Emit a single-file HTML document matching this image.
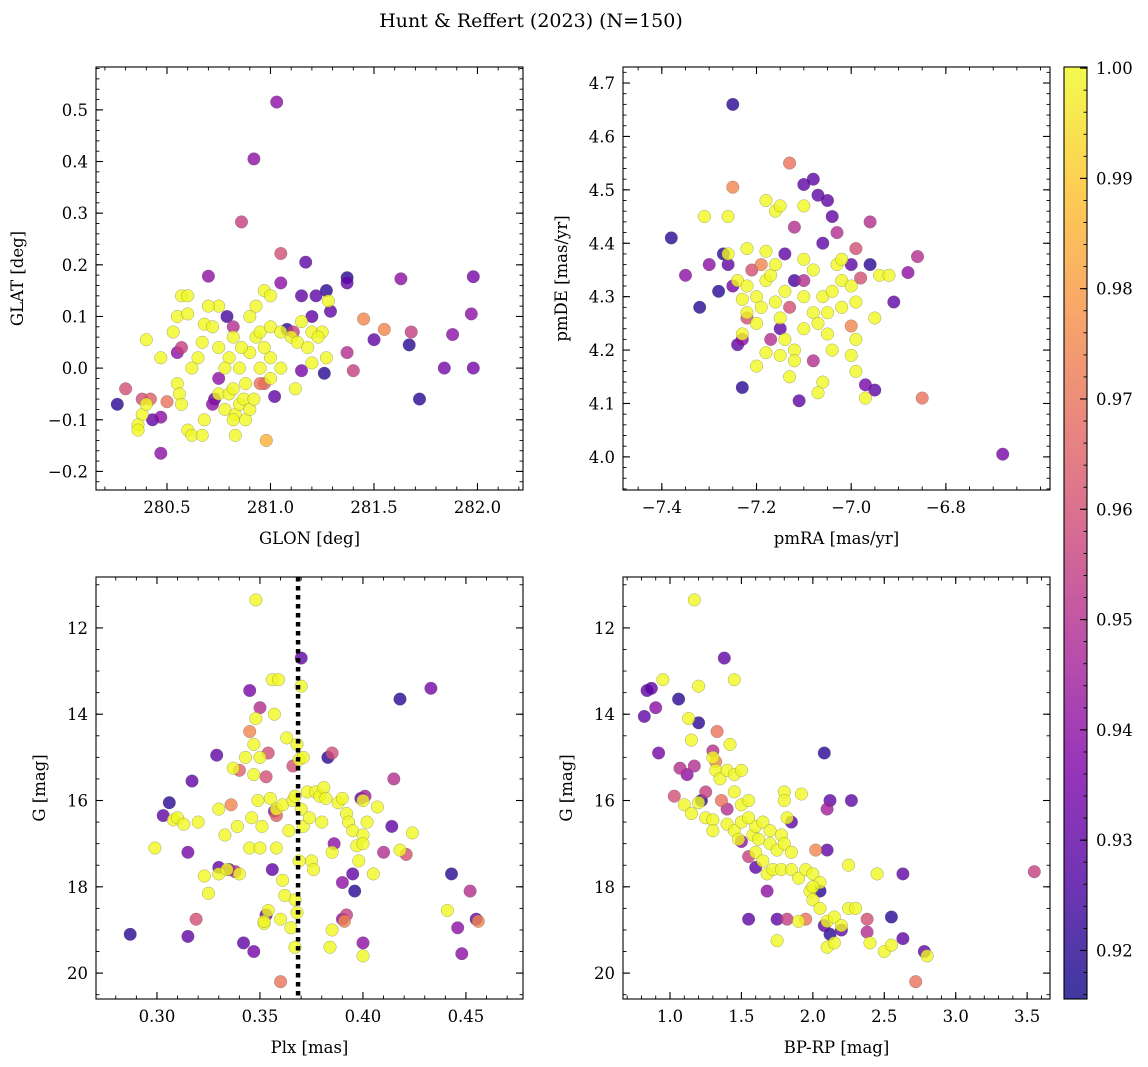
<!DOCTYPE html>
<html><head><meta charset="utf-8">
<style>
html,body{margin:0;padding:0;background:#fff;}
svg{display:block;font-family:"DejaVu Serif","Liberation Serif",serif;}
</style></head>
<body>
<svg id="fig" width="1148" height="1067" xmlns="http://www.w3.org/2000/svg">
<defs>
<linearGradient id="plasmaGrad" x1="0" y1="1" x2="0" y2="0">
<stop offset="0" stop-color="#0d0887"/><stop offset="0.125" stop-color="#4c02a1"/><stop offset="0.25" stop-color="#7e03a8"/><stop offset="0.375" stop-color="#a92395"/><stop offset="0.5" stop-color="#cc4778"/><stop offset="0.625" stop-color="#e56b5d"/><stop offset="0.75" stop-color="#f89441"/><stop offset="0.875" stop-color="#fdc328"/><stop offset="1" stop-color="#f0f921"/>
</linearGradient>
</defs>
<text x="531" y="27" font-size="19" text-anchor="middle">Hunt &amp; Reffert (2023) (N=150)</text>
</svg>
<script>
// ---------- data ----------
const probRange = [0.9156, 1.0001];
const cbarTicks = [0.92,0.93,0.94,0.95,0.96,0.97,0.98,0.99,1.00];

const glonGlatPts = [
[281.03,0.515,0.94],[280.92,0.405,0.94],[280.86,0.283,0.955],[281.05,0.222,0.96],[281.05,0.165,0.94],[281.17,0.205,0.93],[281.37,0.175,0.92],[281.37,0.165,0.93],[281.63,0.173,0.94],[281.98,0.177,0.935],[280.7,0.178,0.94],[281.27,0.15,0.92],[281.22,0.14,0.93],[281.15,0.14,0.93],[281.2,0.1,0.93],[281.29,0.11,0.93],[281.45,0.095,0.975],[281.55,0.075,0.975],[281.68,0.07,0.955],[281.88,0.065,0.94],[281.97,0.105,0.94],[281.98,0.0,0.935],[281.84,0.0,0.935],[281.67,0.045,0.92],[281.5,0.055,0.93],[281.72,-0.06,0.92],[281.4,-0.005,0.955],[281.37,0.03,0.95],[281.26,-0.01,0.92],[281.15,-0.005,0.935],[281.08,0.075,0.92],[281.11,0.07,0.955],[281.02,-0.055,0.93],[280.97,-0.03,0.965],[280.95,-0.03,0.97],[280.98,-0.14,0.985],[280.79,0.1,0.925],[280.82,0.08,0.95],[280.75,-0.02,0.94],[280.3,-0.04,0.96],[280.26,-0.07,0.92],[280.38,-0.06,0.96],[280.42,-0.06,0.965],[280.5,-0.065,0.97],[280.43,-0.1,0.93],[280.47,-0.095,0.94],[280.47,-0.165,0.94],[280.55,0.03,0.94],[280.57,0.04,0.955],[280.72,-0.07,0.94],[280.73,-0.06,0.93],
[280.38,-0.09,1],[280.36,-0.11,1],[280.36,-0.12,1],[280.4,-0.07,1],[280.4,0.055,1],[280.47,0.02,1],[280.53,0.07,1],[280.55,0.1,1],[280.57,0.14,1],[280.6,0.14,1],[280.6,0.105,1],[280.55,-0.03,1],[280.56,-0.05,1],[280.57,-0.07,1],[280.6,-0.12,1],[280.62,-0.13,1],[280.67,-0.13,1],[280.62,0.0,1],[280.65,0.02,1],[280.67,0.05,1],[280.68,0.085,1],[280.72,0.08,1],[280.75,0.04,1],[280.75,-0.05,1],[280.78,-0.08,1],[280.8,-0.05,1],[280.82,-0.04,1],[280.83,-0.09,1],[280.85,-0.07,1],[280.87,-0.06,1],[280.88,-0.1,1],[280.9,-0.08,1],[280.82,-0.1,1],[280.8,0.02,1],[280.78,0.0,1],[280.85,0.0,1],[280.9,0.03,1],[280.93,0.06,1],[280.95,0.07,1],[280.9,0.1,1],[280.93,0.12,1],[280.97,0.15,1],[281.0,0.14,1],[281.0,0.08,1],[281.05,0.07,1],[281.1,0.06,1],[281.13,0.05,1],[281.18,0.04,1],[281.2,0.07,1],[281.25,0.07,1],[281.27,0.02,1],[281.2,0.01,1],[281.12,-0.04,1],[281.05,0.0,1],[281.0,0.02,1],[280.95,0.0,1],[280.92,-0.06,1],[280.88,-0.03,1],[280.86,0.04,1],[280.82,0.06,1],[280.75,0.12,1],[280.7,0.12,1],[281.0,-0.02,1],[280.97,0.04,1],[280.83,-0.13,1],[280.68,-0.1,1],[281.28,0.13,1],[281.15,0.09,1],[281.23,0.06,1]];

const pmPts = [
[-7.25,4.66,0.92],[-7.38,4.41,0.92],[-7.35,4.34,0.94],[-7.32,4.28,0.92],[-7.3,4.36,0.94],[-7.28,4.31,0.92],[-7.26,4.36,0.93],[-7.27,4.38,0.92],[-7.23,4.13,0.92],[-7.23,4.22,0.94],[-7.24,4.21,0.93],[-7.25,4.505,0.975],[-7.13,4.55,0.97],[-7.1,4.51,0.93],[-7.08,4.52,0.93],[-7.07,4.49,0.93],[-7.05,4.48,0.93],[-7.04,4.45,0.93],[-7.06,4.4,0.93],[-7.03,4.42,0.95],[-7.12,4.43,0.95],[-7.14,4.38,0.93],[-7.12,4.33,0.925],[-7.1,4.33,0.95],[-7.15,4.24,0.93],[-7.17,4.22,0.95],[-7.13,4.28,0.96],[-7.11,4.105,0.93],[-7.08,4.18,0.95],[-6.96,4.44,0.95],[-6.99,4.39,0.96],[-6.98,4.335,0.96],[-6.96,4.36,0.92],[-7.0,4.36,0.93],[-6.95,4.125,0.93],[-6.97,4.135,0.935],[-6.91,4.29,0.93],[-6.88,4.345,0.94],[-6.86,4.375,0.95],[-6.85,4.11,0.97],[-6.68,4.005,0.935],[-7.0,4.245,0.975],[-7.19,4.36,0.975],[-7.21,4.35,0.96],[-7.25,4.32,0.935],[-7.22,4.26,0.96],
[-7.31,4.45,1],[-7.26,4.45,1],[-7.26,4.38,1],[-7.22,4.39,1],[-7.24,4.33,1],[-7.23,4.295,1],[-7.22,4.27,1],[-7.23,4.23,1],[-7.2,4.25,1],[-7.2,4.3,1],[-7.18,4.33,1],[-7.17,4.34,1],[-7.18,4.48,1],[-7.16,4.46,1],[-7.15,4.47,1],[-7.16,4.36,1],[-7.16,4.29,1],[-7.15,4.26,1],[-7.14,4.22,1],[-7.12,4.2,1],[-7.15,4.19,1],[-7.18,4.195,1],[-7.2,4.17,1],[-7.18,4.385,1],[-7.1,4.47,1],[-7.1,4.37,1],[-7.1,4.3,1],[-7.08,4.27,1],[-7.06,4.3,1],[-7.07,4.25,1],[-7.05,4.23,1],[-7.04,4.2,1],[-7.06,4.14,1],[-7.07,4.12,1],[-7.02,4.28,1],[-7.02,4.33,1],[-7.03,4.36,1],[-7.02,4.37,1],[-7.0,4.32,1],[-6.99,4.29,1],[-6.99,4.22,1],[-7.0,4.19,1],[-6.99,4.16,1],[-6.97,4.11,1],[-6.95,4.26,1],[-6.94,4.34,1],[-6.92,4.34,1],[-7.1,4.24,1],[-7.12,4.18,1],[-7.22,4.32,1],[-7.19,4.28,1],[-7.13,4.15,1],[-7.04,4.31,1],[-7.08,4.35,1],[-7.14,4.31,1],[-7.05,4.27,1]];

const plxGPts = [
[0.287,19.1,0.92],[0.303,16.35,0.93],[0.306,16.05,0.92],[0.315,17.2,0.935],[0.315,19.15,0.93],[0.317,15.55,0.93],[0.319,18.75,0.96],[0.329,14.95,0.93],[0.33,17.55,0.93],[0.335,17.6,0.935],[0.336,16.1,0.975],[0.338,17.65,0.95],[0.34,15.3,0.965],[0.342,19.3,0.93],[0.345,14.4,0.975],[0.345,13.45,0.935],[0.347,19.5,0.935],[0.35,13.85,0.95],[0.353,15.45,0.96],[0.353,18.65,0.93],[0.356,17.6,0.93],[0.357,16.25,0.94],[0.358,16.35,0.965],[0.36,20.2,0.97],[0.366,15.2,0.96],[0.37,12.7,0.93],[0.383,15.0,0.92],[0.385,14.9,0.96],[0.386,17.0,0.94],[0.39,17.9,0.94],[0.39,18.75,0.94],[0.392,18.65,0.955],[0.391,18.8,0.975],[0.395,17.7,0.93],[0.396,18.1,0.92],[0.399,15.95,0.93],[0.4,19.3,0.94],[0.401,15.9,0.945],[0.41,17.2,0.95],[0.414,16.6,0.93],[0.415,15.5,0.95],[0.418,13.65,0.92],[0.421,17.25,0.96],[0.433,13.4,0.935],[0.443,17.7,0.92],[0.446,18.95,0.94],[0.448,19.55,0.94],[0.452,18.1,0.95],[0.455,18.75,0.93],[0.456,18.8,0.975],[0.354,14.9,0.96],
[0.299,17.1,1],[0.308,16.45,1],[0.31,16.4,1],[0.313,16.55,1],[0.32,16.5,1],[0.323,17.75,1],[0.325,18.15,1],[0.33,17.7,1],[0.33,16.2,1],[0.333,16.8,1],[0.334,17.6,1],[0.337,15.25,1],[0.339,16.6,1],[0.34,17.7,1],[0.343,15.0,1],[0.345,17.1,1],[0.346,16.4,1],[0.347,15.4,1],[0.347,14.7,1],[0.348,11.35,1],[0.348,14.1,1],[0.349,16.0,1],[0.35,15.0,1],[0.35,17.1,1],[0.351,16.6,1],[0.352,18.85,1],[0.354,18.55,1],[0.355,15.95,1],[0.356,13.2,1],[0.357,14.0,1],[0.358,16.2,1],[0.358,17.1,1],[0.359,13.2,1],[0.36,18.75,1],[0.361,17.85,1],[0.361,16.1,1],[0.363,14.55,1],[0.364,16.7,1],[0.365,18.95,1],[0.366,16.0,1],[0.367,15.9,1],[0.367,18.3,1],[0.368,14.7,1],[0.369,17.4,1],[0.369,15.05,1],[0.37,13.35,1],[0.37,16.2,1],[0.371,16.6,1],[0.371,15.0,1],[0.373,15.8,1],[0.374,16.4,1],[0.375,17.4,1],[0.376,17.6,1],[0.377,15.8,1],[0.379,15.9,1],[0.38,16.5,1],[0.381,15.7,1],[0.382,15.95,1],[0.384,19.4,1],[0.385,17.2,1],[0.385,19.0,1],[0.388,16.05,1],[0.39,15.95,1],[0.392,16.3,1],[0.393,16.5,1],[0.395,16.7,1],[0.397,17.05,1],[0.398,17.4,1],[0.4,16.8,1],[0.4,17.0,1],[0.4,19.6,1],[0.4,16.0,1],[0.402,16.5,1],[0.405,17.7,1],[0.407,16.15,1],[0.418,17.15,1],[0.424,16.75,1],[0.441,18.55,1],[0.367,19.4,1],[0.362,18.2,1],[0.368,18.6,1],[0.352,18.8,1]];

const cmdPts = [
[0.82,14.05,0.93],[0.84,13.45,0.93],[0.87,13.4,0.93],[0.9,13.85,0.94],[0.92,14.9,0.935],[1.03,15.9,0.96],[1.06,13.65,0.92],[1.07,15.25,0.95],[1.12,15.4,0.94],[1.17,15.2,0.95],[1.2,14.2,0.92],[1.22,16.0,0.92],[1.3,14.85,0.95],[1.33,14.4,0.97],[1.38,12.7,0.93],[1.36,16.0,0.97],[1.4,16.2,0.95],[1.55,17.3,0.955],[1.6,17.55,0.93],[1.5,16.95,0.94],[1.68,18.1,0.94],[1.75,18.75,0.93],[1.55,18.75,0.93],[1.82,18.75,0.955],[1.95,18.75,0.97],[2.02,17.15,0.975],[2.1,17.15,0.93],[2.08,14.9,0.92],[2.1,16.2,0.945],[2.12,16.0,0.93],[2.2,19.0,0.93],[2.27,16.0,0.93],[2.08,18.9,0.93],[2.12,19.1,0.92],[2.05,18.1,0.92],[2.38,18.75,0.96],[2.38,19.05,0.95],[2.55,18.7,0.92],[2.63,19.2,0.93],[2.63,17.7,0.93],[2.72,20.2,0.97],[2.78,19.5,0.93],[3.55,17.65,0.955],[1.85,16.5,0.93],[1.32,15.1,0.975],[1.25,15.8,0.955],
[0.95,13.2,1],[1.17,11.35,1],[1.2,13.35,1],[1.13,14.1,1],[1.15,14.6,1],[1.45,13.2,1],[1.42,14.7,1],[1.3,15.0,1],[1.32,15.3,1],[1.35,15.5,1],[1.4,15.3,1],[1.45,15.4,1],[1.5,15.3,1],[1.45,15.8,1],[1.5,16.1,1],[1.55,16.0,1],[1.2,16.05,1],[1.25,16.4,1],[1.3,16.45,1],[1.4,16.55,1],[1.45,16.7,1],[1.5,16.5,1],[1.58,16.8,1],[1.6,16.6,1],[1.65,16.5,1],[1.7,16.7,1],[1.7,17.0,1],[1.75,17.15,1],[1.78,16.8,1],[1.8,17.0,1],[1.82,16.4,1],[1.85,17.2,1],[1.8,15.8,1],[1.8,16.0,1],[1.92,15.85,1],[1.6,17.2,1],[1.65,17.4,1],[1.68,17.7,1],[1.72,17.6,1],[1.78,17.6,1],[1.85,17.6,1],[1.9,17.8,1],[1.95,17.6,1],[2.0,17.7,1],[1.98,18.1,1],[2.0,18.3,1],[2.05,17.9,1],[2.05,18.5,1],[2.1,18.8,1],[2.15,18.7,1],[2.2,18.9,1],[2.25,17.5,1],[2.25,18.5,1],[2.3,18.5,1],[2.4,19.3,1],[2.45,17.7,1],[2.5,19.5,1],[2.55,19.35,1],[2.8,19.6,1],[2.1,19.4,1],[1.75,19.25,1],[1.9,18.8,1],[1.1,16.1,1],[1.15,16.3,1],[1.3,16.7,1],[1.48,16.9,1],[1.55,16.4,1],[1.62,16.9,1],[2.0,18.0,1],[2.15,19.3,1]];

const glonTicks=[280.5,281.0,281.5,282.0], glatTicks=[-0.2,-0.1,0.0,0.1,0.2,0.3,0.4,0.5];
const pmraTicks=[-7.4,-7.2,-7.0,-6.8], pmdeTicks=[4.0,4.1,4.2,4.3,4.4,4.5,4.6,4.7];
const plxTicks=[0.30,0.35,0.40,0.45], gTicks=[12,14,16,18,20];
const bprpTicks=[1.0,1.5,2.0,2.5,3.0,3.5];
const plxLine = [0.3685];

// ---------- drawing ----------
const svg=document.getElementById('fig');
const NS='http://www.w3.org/2000/svg';
function mk(tag,attrs,parent){const e=document.createElementNS(NS,tag);for(const k in attrs)e.setAttribute(k,attrs[k]);(parent||svg).appendChild(e);return e;}
const stops=[[0,[13,8,135]],[0.125,[76,2,161]],[0.25,[126,3,168]],[0.375,[169,35,149]],[0.5,[204,71,120]],[0.625,[229,107,93]],[0.75,[248,148,65]],[0.875,[253,195,40]],[1,[240,249,33]]];
function plasma(t){t=Math.max(0,Math.min(1,t));for(let i=1;i<stops.length;i++){if(t<=stops[i][0]){const a=stops[i-1],b=stops[i];const f=(t-a[0])/(b[0]-a[0]);return 'rgb('+a[1].map((v,j)=>Math.round(v+(b[1][j]-v)*f)).join(',')+')';}}return 'rgb(240,249,33)';}
function fmt(v,d){return (v<0?'\u2212':'')+Math.abs(v).toFixed(d);}
const TF=16.5, LF=16.5;

function panel(cfg){
  const {name,x0,y0,x1,y1,xd,yd,xt,yt,xdec,ydec,xminor,yminor,pts,xlabel,ylabel,ylx}=cfg;
  const g=mk('g',{});
  
  
  const sx=v=>x0+(v-xd[0])/(xd[1]-xd[0])*(x1-x0);
  const sy=v=>y1-(v-yd[0])/(yd[1]-yd[0])*(y1-y0);
  const clip='clip-'+name;
  const cp=mk('clipPath',{id:clip},g);mk('rect',{x:x0,y:y0,width:x1-x0,height:y1-y0},cp);
  const pg=mk('g',{'clip-path':'url(#'+clip+')'},g);
  const sorted=pts.slice().sort((a,b)=>a[2]-b[2]);
  sorted.forEach(p=>{
    const c=mk('circle',{cx:sx(p[0]).toFixed(1),cy:sy(p[1]).toFixed(1),r:6.3,fill:plasma((p[2]-probRange[0])/(probRange[1]-probRange[0])),'fill-opacity':0.8,stroke:'#555','stroke-opacity':0.5,'stroke-width':0.5},pg);
    
    
  });
  if(cfg.vline){cfg.vline.forEach(v=>{const l=mk('line',{x1:sx(v),x2:sx(v),y1:y0,y2:y1,stroke:'#000','stroke-width':4.5,'stroke-dasharray':'4.5,4.5'},g);
    
    });}
  const fr=mk('rect',{x:x0,y:y0,width:x1-x0,height:y1-y0,fill:'none',stroke:'#000','stroke-width':1.1},g);
  
  
  const xm0=Math.ceil(xd[0]/xminor-1e-6),xm1=Math.floor(xd[1]/xminor+1e-6);
  for(let i=xm0;i<=xm1;i++){const X=sx(i*xminor);mk('line',{x1:X,x2:X,y1:y1,y2:y1-3.5,stroke:'#000','stroke-width':0.9},g);mk('line',{x1:X,x2:X,y1:y0,y2:y0+3.5,stroke:'#000','stroke-width':0.9},g);}
  const ym0=Math.ceil(Math.min(...yd)/yminor-1e-6),ym1=Math.floor(Math.max(...yd)/yminor+1e-6);
  for(let i=ym0;i<=ym1;i++){const Y=sy(i*yminor);mk('line',{x1:x0,x2:x0+3.5,y1:Y,y2:Y,stroke:'#000','stroke-width':0.9},g);mk('line',{x1:x1,x2:x1-3.5,y1:Y,y2:Y,stroke:'#000','stroke-width':0.9},g);}
  const xa=mk('g',{},g);
  xt.forEach(v=>{const X=sx(v);mk('line',{x1:X,x2:X,y1:y1,y2:y1-7,stroke:'#000','stroke-width':1.1},xa);mk('line',{x1:X,x2:X,y1:y0,y2:y0+7,stroke:'#000','stroke-width':1.1},xa);
    const t=mk('text',{x:X,y:y1+23,'font-size':TF,'text-anchor':'middle'},xa);t.textContent=fmt(v,xdec);
    });
  const ya=mk('g',{},g);
  yt.forEach(v=>{const Y=sy(v);mk('line',{x1:x0,x2:x0+7,y1:Y,y2:Y,stroke:'#000','stroke-width':1.1},ya);mk('line',{x1:x1,x2:x1-7,y1:Y,y2:Y,stroke:'#000','stroke-width':1.1},ya);
    const t=mk('text',{x:x0-8,y:Y+6,'font-size':TF,'text-anchor':'end'},ya);t.textContent=fmt(v,ydec);
    });
  const xl=mk('text',{x:(x0+x1)/2,y:y1+54,'font-size':LF,'text-anchor':'middle'},g);xl.textContent=xlabel;
  
  const yl=mk('text',{x:0,y:0,'font-size':LF,'text-anchor':'middle',transform:'translate('+ylx+','+((y0+y1)/2)+') rotate(-90)'},g);yl.textContent=ylabel;
  
}

panel({name:'glon-glat-panel',x0:96,y0:67,x1:523,y1:490,xd:[280.157,282.22],yd:[-0.236,0.583],xt:glonTicks,yt:glatTicks,xdec:1,ydec:1,xminor:0.1,yminor:0.02,pts:glonGlatPts,xlabel:'GLON [deg]',ylabel:'GLAT [deg]',ylx:23});
panel({name:'proper-motion-panel',x0:623,y0:67,x1:1050,y1:490,xd:[-7.482,-6.58],yd:[3.938,4.73],xt:pmraTicks,yt:pmdeTicks,xdec:1,ydec:1,xminor:0.05,yminor:0.02,pts:pmPts,xlabel:'pmRA [mas/yr]',ylabel:'pmDE [mas/yr]',ylx:567});
panel({name:'parallax-magnitude-panel',x0:96,y0:577,x1:523,y1:999,xd:[0.2704,0.4777],yd:[20.6,10.82],xt:plxTicks,yt:gTicks,xdec:2,ydec:0,xminor:0.01,yminor:0.5,pts:plxGPts,xlabel:'Plx [mas]',ylabel:'G [mag]',ylx:45,vline:plxLine});
panel({name:'color-magnitude-panel',x0:623,y0:577,x1:1050,y1:999,xd:[0.671,3.66],yd:[20.6,10.82],xt:bprpTicks,yt:gTicks,xdec:1,ydec:0,xminor:0.1,yminor:0.5,pts:cmdPts,xlabel:'BP-RP [mag]',ylabel:'G [mag]',ylx:572});

const cb=mk('g',{});


const cbx0=1064,cbx1=1087,cby0=67,cby1=999;
const cy=v=>cby1-(v-probRange[0])/(probRange[1]-probRange[0])*(cby1-cby0);
mk('rect',{x:cbx0,y:cby0,width:cbx1-cbx0,height:cby1-cby0,fill:'url(#plasmaGrad)','fill-opacity':0.8},cb);
mk('rect',{x:cbx0,y:cby0,width:cbx1-cbx0,height:cby1-cby0,fill:'none',stroke:'#000','stroke-width':1.1},cb);
for(let i=Math.ceil(probRange[0]/0.002);i<=Math.floor(probRange[1]/0.002);i++){const Y=cy(i*0.002);mk('line',{x1:cbx1,x2:cbx1-3.5,y1:Y,y2:Y,stroke:'#000','stroke-width':0.9},cb);}
cbarTicks.forEach(v=>{const Y=cy(v);mk('line',{x1:cbx1,x2:cbx1-7,y1:Y,y2:Y,stroke:'#000','stroke-width':1.1},cb);
  const t=mk('text',{x:cbx1+9,y:Y+6,'font-size':TF},cb);t.textContent=v.toFixed(2);
  });
</script>
</body></html>
